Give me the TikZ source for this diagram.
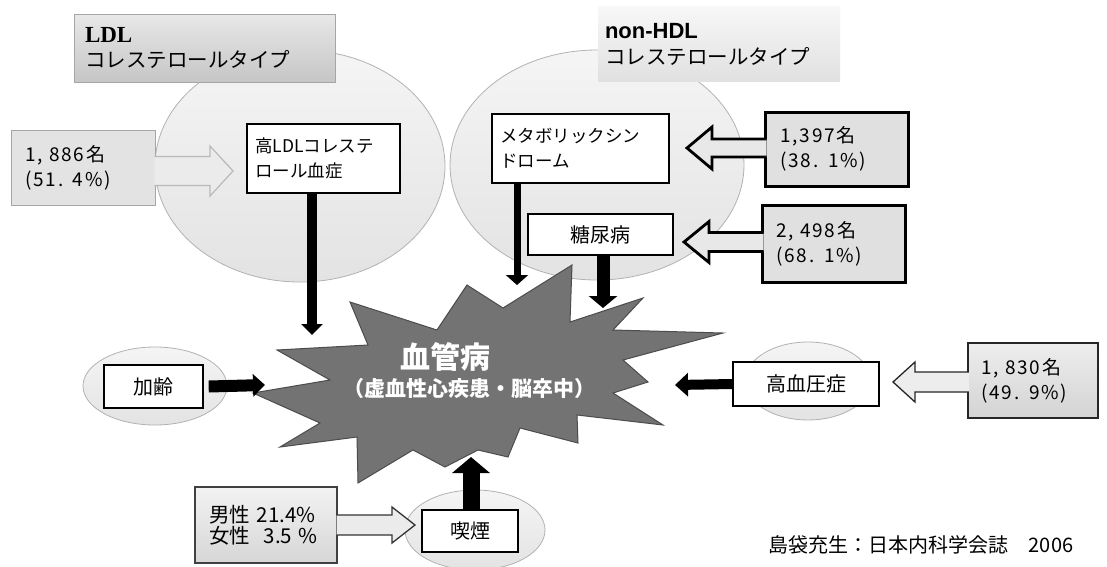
\documentclass[tikz,border=0pt]{standalone}
\usepackage{fontspec}
\setmainfont{Noto Sans CJK JP}
\newfontfamily\numfont{Noto Sans CJK JP}[LetterSpace=10]
\newfontfamily\ldlserif{Liberation Serif}
\newfontfamily\lsans{Liberation Sans}
\usetikzlibrary{arrows.meta,calc,shapes.geometric}
\tikzset{
  bgell/.style={ellipse, draw=gray!60, line width=0.8pt, top color=gray!8, bottom color=gray!22, inner sep=0pt},
  whitebox/.style={rectangle, draw=black, line width=1.3pt, fill=white, inner sep=0pt, font=\fontsize{17.5}{25}\selectfont},
  countbox/.style={rectangle, inner sep=0pt, align=left, font=\numfont\fontsize{19}{25}\selectfont},
  blkarrow/.style={draw=black, line width=#1},
  starfill/.style={fill=black!55, draw=black!70, line width=1pt, line join=miter},
  vtext/.style={text=white, font=\bfseries},
}
% horizontal block arrow: #1 fill style, #2 draw style, #3 start, #4 tip, #5 shaft half, #6 head half, #7 signed head length
\newcommand\hblock[7]{%
  \fill[#1] let \p1=(#3), \p2=(#4), \n1={\x2-1*(#7)} in (\x1,{\y2+#5}) -- (\n1,{\y2+#5}) -- (\n1,{\y2+#6}) -- (\x2,\y2) -- (\n1,{\y2-#6}) -- (\n1,{\y2-#5}) -- (\x1,{\y2-#5}) -- cycle;
  \draw[#2] let \p1=(#3), \p2=(#4), \n1={\x2-1*(#7)} in (\x1,{\y2+#5}) -- (\n1,{\y2+#5}) -- (\n1,{\y2+#6}) -- (\x2,\y2) -- (\n1,{\y2-#6}) -- (\n1,{\y2-#5}) -- (\x1,{\y2-#5});
}
\begin{document}
\begin{tikzpicture}[x=1pt,y=-1pt]
\useasboundingbox (0,0) rectangle (1107,566);
\fill[white] (0,0) rectangle (1107,566);

% background ellipses
\node[bgell, minimum width=290pt, minimum height=232pt] (ldlell) at (300,166) {};
\node[bgell, minimum width=294pt, minimum height=230pt] (hdlell) at (597,165) {};
\node[bgell, minimum width=126pt, minimum height=78pt] (htnell) at (808,381) {};
\node[bgell, minimum width=144pt, minimum height=78pt] (ageell) at (155,386) {};
\node[bgell, minimum width=140pt, minimum height=80pt] (smkell) at (475,530) {};

% category labels
\node[rectangle, draw=gray!70, line width=0.8pt, top color=gray!18, bottom color=gray!45,
      minimum width=261pt, minimum height=68pt, text width=239pt, inner xsep=11pt, inner ysep=0pt,
      align=left, font=\fontsize{20.5}{25}\selectfont] (ldllab) at (204.5,48)
      {{\ldlserif\bfseries\fontsize{23}{25}\selectfont LDL}\\コレステロールタイプ};
\node[rectangle, top color=gray!6, bottom color=gray!24,
      minimum width=242pt, minimum height=75pt, text width=228pt, inner xsep=7pt, inner ysep=0pt,
      align=left, font=\fontsize{20.5}{26}\selectfont] (hdllab) at (719,44)
      {{\lsans\bfseries\fontsize{22}{26}\selectfont non-HDL}\\コレステロールタイプ};

% starburst
\fill[starfill] (253,393) -- (330,380) -- (277,350) -- (368,345) -- (350,302) -- (437,330)
  -- (467,285) -- (503,308) -- (572,265) -- (570,322) -- (643,298) -- (613,330) -- (723,333)
  -- (623,360) -- (648,382) -- (613,393) -- (663,425) -- (577,415) -- (578,443) -- (520,428)
  -- (508,457) -- (478,450) -- (445,467) -- (413,450) -- (358,483) -- (357,437) -- (280,447)
  -- (320,423) -- cycle;
\node[vtext, font=\bfseries\fontsize{30}{32}\selectfont] (vessel) at (445,357) {血管病};
\node[vtext, font=\bfseries\fontsize{21}{22}\selectfont] (vesselsub) at (469,389) {（虚血性心疾患・脳卒中）};

% count boxes
\node[countbox, fill=gray!22, draw=gray!70, line width=0.8pt, minimum width=144pt, minimum height=75pt,
      text width=116pt, inner xsep=14pt] (c1886) at (83,167.5) {1, 886名\\(51. 4\%)};
\node[countbox, fill=gray!24, draw=black, line width=3pt, minimum width=143pt, minimum height=74pt,
      text width=113pt, inner xsep=15pt] (c1397) at (836.5,149) {1,397名\\(38. 1\%)};
\node[countbox, fill=gray!24, draw=black, line width=3pt, minimum width=143pt, minimum height=77pt,
      text width=115pt, inner xsep=14pt] (c2498) at (833.5,243.5) {2, 498名\\(68. 1\%)};
\node[countbox, top color=gray!14, bottom color=gray!34, draw=black!85, line width=1.5pt, minimum width=130pt, minimum height=75pt,
      text width=104pt, inner xsep=13pt] (c1830) at (1033,380.5) {1, 830名\\(49. 9\%)};
\node[countbox, top color=gray!10, bottom color=gray!32, draw=black!75, line width=1.2pt, minimum width=142pt, minimum height=76pt,
      text width=114pt, inner xsep=14pt, font=\fontsize{20.5}{21}\selectfont] (csmk) at (266,525) {男性 21.4\%\\女性\ \ 3.5 \%};

% white factor boxes
\node[whitebox, minimum width=153pt, minimum height=69pt, text width=137pt, inner xsep=8pt, align=left] (hldl) at (323.5,158.5) {高LDLコレステ\\ロール血症};
\node[whitebox, minimum width=177pt, minimum height=69pt, text width=161pt, inner xsep=8pt, align=left] (metab) at (580.5,148.5) {メタボリックシン\\ドローム};
\node[whitebox, minimum width=145pt, minimum height=41pt, font=\fontsize{20}{22}\selectfont] (dm) at (600.5,234.5) {糖尿病};
\node[whitebox, minimum width=146pt, minimum height=44pt, font=\fontsize{20}{22}\selectfont] (htn) at (806,384) {高血圧症};
\node[whitebox, minimum width=99pt, minimum height=43pt, font=\fontsize{20}{22}\selectfont] (age) at (153.5,386.5) {加齢};
\node[whitebox, minimum width=96pt, minimum height=42pt, font=\fontsize{20}{22}\selectfont] (smk) at (470,531) {喫煙};

% tips
\coordinate (tLDL) at (312,335);
\coordinate (tMS) at (517,285);
\coordinate (tDM) at (603,308);
\coordinate (tAge) at (265,385);
\coordinate (tHTN) at (675,385);
\coordinate (tSmk) at (471,457);
\coordinate (o1886) at (233,171);
\coordinate (o1397) at (687,148);
\coordinate (o2498) at (684,242);
\coordinate (o1830) at (893,382);
\coordinate (osmk) at (415,525);

% black arrows
\draw[blkarrow=10pt, -{Triangle[length=11pt,width=21pt]}] (tLDL |- hldl.south) -- (tLDL);
\draw[blkarrow=7pt, -{Triangle[length=10pt,width=22pt]}] (tMS |- metab.south) -- (tMS);
\draw[blkarrow=13pt, -{Triangle[length=12pt,width=28pt]}] (tDM |- dm.south) -- (tDM);
\draw[blkarrow=12pt, -{Triangle[length=12pt,width=22pt]}] (age.east) ++(5,0) -- (tAge);
\draw[blkarrow=10pt, -{Triangle[length=13pt,width=23pt]}] (htn.west) -- (tHTN);
\draw[blkarrow=17pt, -{Triangle[length=16pt,width=37pt]}] (tSmk |- smk.north) -- (tSmk);

% open block arrows
\hblock{fill=gray!16}{draw=gray!55, line width=1.2pt, line join=miter}{$(c1886.east)+(-1,0)$}{o1886}{14.5pt}{25pt}{23pt}
\hblock{fill=gray!18}{draw=black, line width=2.8pt, line join=miter}{$(c1397.west)+(3,0)$}{o1397}{9pt}{21pt}{-25pt}
\hblock{fill=gray!18}{draw=black, line width=2.8pt, line join=miter}{$(c2498.west)+(3,0)$}{o2498}{9.5pt}{20.5pt}{-25pt}
\hblock{fill=gray!14}{draw=black!85, line width=1.3pt, line join=miter}{$(c1830.west)+(1.5,0)$}{o1830}{10pt}{20pt}{-22pt}
\hblock{fill=gray!16}{draw=black!80, line width=1.3pt, line join=miter}{$(csmk.east)+(-1,0)$}{osmk}{10pt}{18pt}{23pt}

% citation
\node[font=\fontsize{20}{22}\selectfont] (cite) at (921,545) {島袋充生：日本内科学会誌　2006};
\end{tikzpicture}
\end{document}
